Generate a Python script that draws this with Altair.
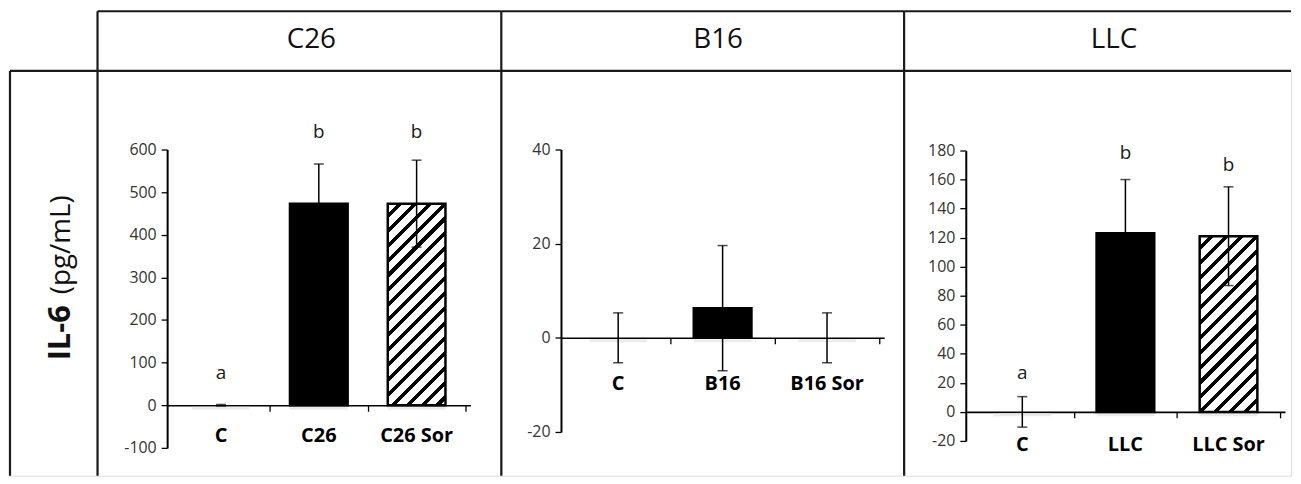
import altair as alt
import pandas as pd

# ---------------- data ----------------
panels = ["C26", "B16", "LLC"]
groups = [["C", "C26", "C26 Sor"], ["C", "B16", "B16 Sor"], ["C", "LLC", "LLC Sor"]]
means = [[0, 473, 473], [0, 6.3, 0], [0, 123, 121]]
errs = [[2, 93, 102], [5.3, 13.3, 5.3], [10.5, 37, 34]]
letters = [["a", "b", "b"], ["", "", ""], ["a", "b", "b"]]
letter_y = [[75, 640, 640], [0, 0, 0], [27, 178, 170]]
kinds = ["none", "solid", "hatch"]
y_domains = [[-100, 600], [-20, 40], [-20, 180]]
y_ticks = [[-100, 0, 100, 200, 300, 400, 500, 600], [-20, 0, 20, 40],
           [-20, 0, 20, 40, 60, 80, 100, 120, 140, 160, 180]]
y_title_bold = "IL-6"
y_title_rest = "(pg/mL)"

# ---------------- layout / style ----------------
FONT = "Open Sans"
LINE = "#1a1a1a"
H = 407          # plot-area height of each column (below the header row)
HEAD = 60        # header row height
col_w = [89, 406, 405, 389]
x_ranges = [[70, 375], [60, 385], [62, 383]]
y_ranges = [[379, 79], [363, 79], [372, 80]]
label_dy = [31, 46, 33]
header_x = [215, 218, 211]
BAR_W = 58

one = pd.DataFrame({"k": [1]})


def hatch_gradient(w, h, period=15.0, dark=0.34):
    total = w + h
    P = period / total
    stops = []
    k = 0
    while k * P < 1:
        a = k * P
        b = min(a + (1 - dark) * P, 1.0)
        c = min(a + P, 1.0)
        stops += [{"offset": round(a, 5), "color": "white"},
                  {"offset": round(b, 5), "color": "white"}]
        if b < 1:
            stops += [{"offset": round(b, 5), "color": "black"},
                      {"offset": round(c, 5), "color": "black"}]
        k += 1
    kk = total / (w * w + h * h)
    return {"gradient": "linear", "stops": stops,
            "x1": 0, "y1": 0, "x2": w * kk, "y2": h * kk}


def frame_rules(W, top=True, left_x=0):
    layers = [
        alt.Chart(one).mark_rule(color=LINE, strokeWidth=2.2).encode(
            x=alt.value(left_x), y=alt.value(-HEAD if top else 0), y2=alt.value(H)),
        alt.Chart(one).mark_rule(color=LINE, strokeWidth=2.2).encode(
            x=alt.value(left_x), x2=alt.value(W), y=alt.value(0)),
    ]
    if top:
        layers.append(alt.Chart(one).mark_rule(color=LINE, strokeWidth=2.2).encode(
            x=alt.value(left_x), x2=alt.value(W), y=alt.value(-HEAD)))
    return layers


def panel(i):
    W = col_w[i + 1]
    d0, d1 = y_domains[i]
    r0, r1 = y_ranges[i]
    zero_px = r0 + (0 - d0) / (d1 - d0) * (r1 - r0)
    px_per_unit = (r0 - r1) / (d1 - d0)

    df = pd.DataFrame({
        "group": groups[i],
        "pos": [0.5, 1.5, 2.5],
        "mean": means[i],
        "err": errs[i],
        "letter": letters[i],
        "ly": letter_y[i],
        "kind": kinds,
        "base": [0, 0, 0],
    })
    df["lo"] = df["mean"] - df["err"]
    df["hi"] = df["mean"] + df["err"]

    xs = alt.Scale(domain=[0, 3], range=x_ranges[i], nice=False, zero=False)
    ys = alt.Scale(domain=y_domains[i], range=[r0, r1], nice=False, zero=False)
    xax = alt.Axis(values=[1, 2, 3], labels=False, grid=False, title=None,
                   domainColor="black", domainWidth=1.6, tickColor="black",
                   tickWidth=1.3, tickSize=6, offset=zero_px - H)
    yax = alt.Axis(values=y_ticks[i], grid=False, title=None, domainColor="black",
                   domainWidth=2, tickColor="black", tickWidth=1.3, tickSize=6,
                   labelFont=FONT, labelFontSize=16, labelColor="#333",
                   labelExpr="replace(datum.label, '\u2212', '-')",
                   labelPadding=5, offset=-x_ranges[i][0])
    X = alt.X("pos:Q", scale=xs, axis=xax)

    def Y(f):
        return alt.Y(f + ":Q", scale=ys, axis=yax)

    base = alt.Chart(df)
    layers = frame_rules(W)
    layers.append(alt.Chart(one).mark_text(font=FONT, fontSize=28, color="#111",
                                           baseline="middle", align="center").encode(
        x=alt.value(header_x[i]), y=alt.value(-31), text=alt.value(panels[i])))

    # faint shadow under each bar at zero
    layers.append(base.mark_tick(orient="horizontal", size=BAR_W, thickness=3,
                                 color="#e4e4e4", yOffset=3).encode(x=X, y=Y("base")))

    solid = df[(df["kind"] == "solid") & (df["mean"].abs() * px_per_unit > 1)]
    if len(solid):
        layers.append(base.mark_bar(width=BAR_W, color="black", stroke="black",
                                    strokeWidth=2.5).encode(
            x=X, y=Y("mean"), y2=alt.Y2("base")).transform_filter(
            "datum.kind == 'solid' && datum.mean != 0"))
    hatch = df[(df["kind"] == "hatch") & (df["mean"].abs() * px_per_unit > 1)]
    if len(hatch):
        h_px = float(hatch["mean"].iloc[0]) * px_per_unit
        layers.append(base.mark_bar(width=BAR_W, fill=hatch_gradient(BAR_W, h_px),
                                    stroke="black", strokeWidth=2.5).encode(
            x=X, y=Y("mean"), y2=alt.Y2("base")).transform_filter(
            "datum.kind == 'hatch' && datum.mean != 0"))

    # error bars
    layers.append(base.mark_rule(color="black", strokeWidth=1.5).encode(
        x=X, y=Y("lo"), y2=alt.Y2("hi")))
    for f in ["lo", "hi"]:
        layers.append(base.mark_tick(orient="horizontal", size=10, thickness=1.5,
                                     color="black").encode(x=X, y=Y(f)))

    # significance letters
    layers.append(base.mark_text(font=FONT, fontSize=19, color="#1a1a1a",
                                 baseline="middle").encode(
        x=X, y=Y("ly"), text="letter:N").transform_filter("datum.letter != ''"))

    # category labels
    layers.append(base.mark_text(font=FONT, fontSize=20, fontWeight="bold",
                                 color="black", baseline="middle",
                                 dy=label_dy[i]).encode(
        x=X, y=Y("base"), text="group:N"))

    return alt.layer(*layers).properties(width=W, height=H)


# left label column
W0 = col_w[0]
col0 = alt.layer(
    *frame_rules(W0, top=False, left_x=1),
    alt.Chart(one).mark_text(font=FONT, fontSize=31, fontWeight="bold", color="#111",
                             angle=270, align="left", baseline="alphabetic").encode(
        x=alt.value(61), y=alt.value(291), text=alt.value(y_title_bold)),
    alt.Chart(one).mark_text(font=FONT, fontSize=28, color="#111",
                             angle=270, align="right", baseline="alphabetic").encode(
        x=alt.value(61), y=alt.value(125), text=alt.value(y_title_rest)),
).properties(width=W0, height=H)

chart = alt.hconcat(col0, panel(0), panel(1), panel(2), spacing=0, bounds="flush").properties(
    padding=0
).configure_view(stroke=None).configure(font=FONT)

chart.save("out.html", embed_options={"renderer": "svg", "actions": False})
